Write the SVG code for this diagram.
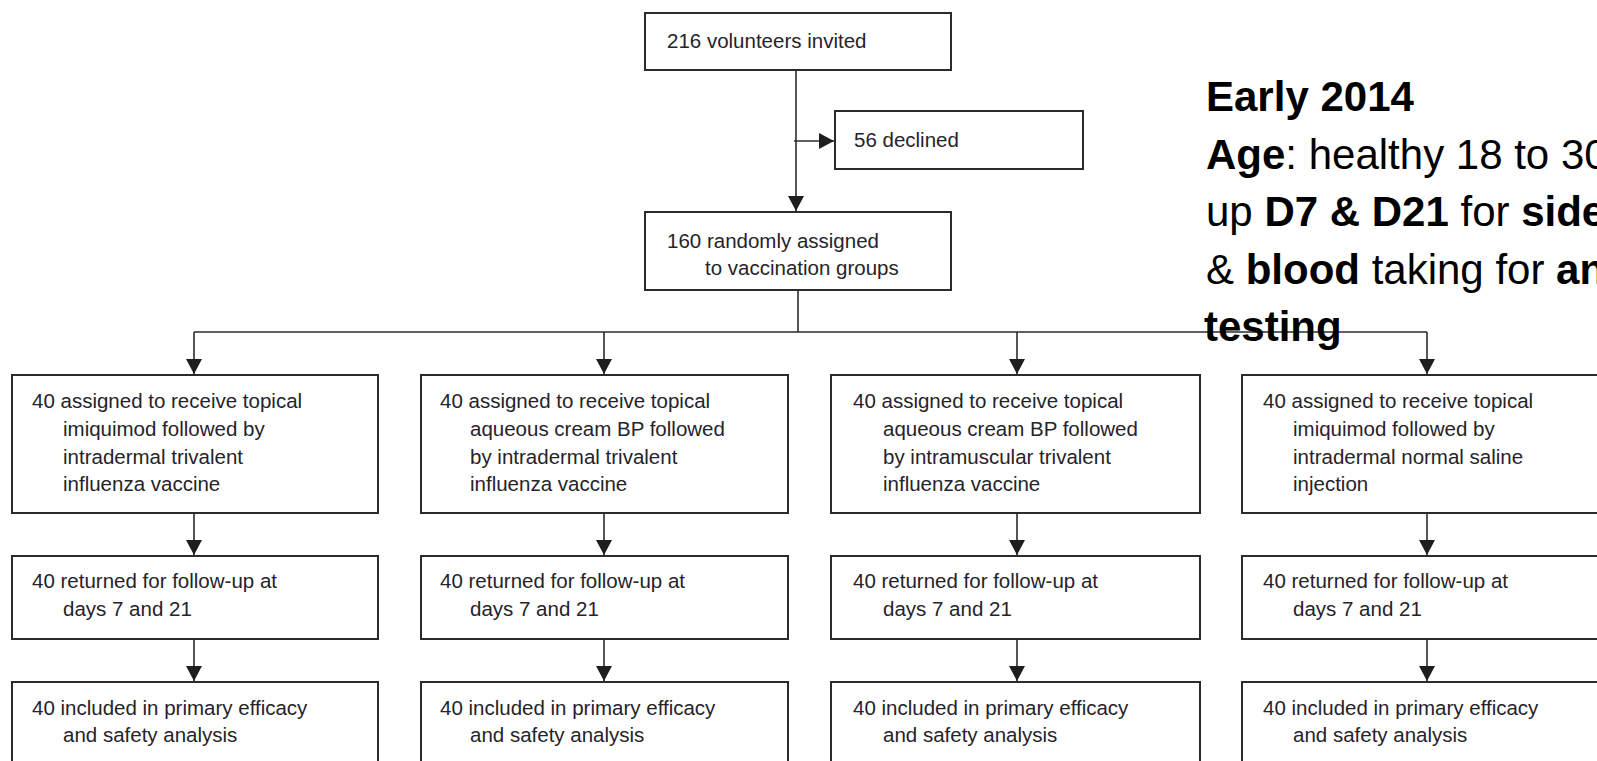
<svg xmlns="http://www.w3.org/2000/svg" width="1597" height="761" viewBox="0 0 1597 761">
<style>
  .box { fill: #ffffff; stroke: #2b2b2b; stroke-width: 2; }
  .t { font-family: "Liberation Sans", Arial, sans-serif; font-size: 20.5px; fill: #26232a; }
  .conn { fill: none; stroke: #2b2b2b; stroke-width: 1.6; }
  .note { font-family: "Liberation Sans", Arial, sans-serif; font-size: 42px; fill: #000000; }
  .b { font-weight: bold; }
</style>
<defs>
  <marker id="arr" markerUnits="userSpaceOnUse" markerWidth="16" markerHeight="16" refX="15" refY="8" orient="auto">
    <path d="M0,0 L15,8 L0,16 Z" fill="#1e1e1e"/>
  </marker>
</defs>
<rect width="1597" height="761" fill="#ffffff"/>

<g id="connectors">
  <line class="conn" x1="796" y1="70" x2="796" y2="211" marker-end="url(#arr)"/>
  <line class="conn" x1="794" y1="141" x2="834" y2="141" marker-end="url(#arr)"/>
  <line class="conn" x1="798" y1="290" x2="798" y2="332"/>
  <line class="conn" x1="194" y1="332" x2="1427" y2="332"/>
  <line class="conn" x1="194" y1="332" x2="194" y2="374" marker-end="url(#arr)"/>
  <line class="conn" x1="604" y1="332" x2="604" y2="374" marker-end="url(#arr)"/>
  <line class="conn" x1="1017" y1="332" x2="1017" y2="374" marker-end="url(#arr)"/>
  <line class="conn" x1="1427" y1="332" x2="1427" y2="374" marker-end="url(#arr)"/>
  <line class="conn" x1="194" y1="513" x2="194" y2="555" marker-end="url(#arr)"/>
  <line class="conn" x1="604" y1="513" x2="604" y2="555" marker-end="url(#arr)"/>
  <line class="conn" x1="1017" y1="513" x2="1017" y2="555" marker-end="url(#arr)"/>
  <line class="conn" x1="1427" y1="513" x2="1427" y2="555" marker-end="url(#arr)"/>
  <line class="conn" x1="194" y1="639" x2="194" y2="681" marker-end="url(#arr)"/>
  <line class="conn" x1="604" y1="639" x2="604" y2="681" marker-end="url(#arr)"/>
  <line class="conn" x1="1017" y1="639" x2="1017" y2="681" marker-end="url(#arr)"/>
  <line class="conn" x1="1427" y1="639" x2="1427" y2="681" marker-end="url(#arr)"/>
</g>

<g id="invited">
  <rect class="box" x="645" y="13" width="306" height="57"/>
  <text class="t" x="667" y="48">216 volunteers invited</text>
</g>
<g id="declined">
  <rect class="box" x="835" y="111" width="248" height="58"/>
  <text class="t" x="854" y="147">56 declined</text>
</g>
<g id="randomised">
  <rect class="box" x="645" y="212" width="306" height="78"/>
  <text class="t" x="667" y="248">160 randomly assigned</text>
  <text class="t" x="705" y="275">to vaccination groups</text>
</g>

<g id="group1">
  <rect class="box" x="12" y="375" width="366" height="138"/>
  <text class="t" x="32" y="408">40 assigned to receive topical</text>
  <text class="t" x="63" y="436">imiquimod followed by</text>
  <text class="t" x="63" y="464">intradermal trivalent</text>
  <text class="t" x="63" y="491">influenza vaccine</text>
</g>
<g id="group2">
  <rect class="box" x="421" y="375" width="367" height="138"/>
  <text class="t" x="440" y="408">40 assigned to receive topical</text>
  <text class="t" x="470" y="436">aqueous cream BP followed</text>
  <text class="t" x="470" y="464">by intradermal trivalent</text>
  <text class="t" x="470" y="491">influenza vaccine</text>
</g>
<g id="group3">
  <rect class="box" x="831" y="375" width="369" height="138"/>
  <text class="t" x="853" y="408">40 assigned to receive topical</text>
  <text class="t" x="883" y="436">aqueous cream BP followed</text>
  <text class="t" x="883" y="464">by intramuscular trivalent</text>
  <text class="t" x="883" y="491">influenza vaccine</text>
</g>
<g id="group4">
  <rect class="box" x="1242" y="375" width="370" height="138"/>
  <text class="t" x="1263" y="408">40 assigned to receive topical</text>
  <text class="t" x="1293" y="436">imiquimod followed by</text>
  <text class="t" x="1293" y="464">intradermal normal saline</text>
  <text class="t" x="1293" y="491">injection</text>
</g>

<g id="followup1">
  <rect class="box" x="12" y="556" width="366" height="83"/>
  <text class="t" x="32" y="588">40 returned for follow-up at</text>
  <text class="t" x="63" y="616">days 7 and 21</text>
</g>
<g id="followup2">
  <rect class="box" x="421" y="556" width="367" height="83"/>
  <text class="t" x="440" y="588">40 returned for follow-up at</text>
  <text class="t" x="470" y="616">days 7 and 21</text>
</g>
<g id="followup3">
  <rect class="box" x="831" y="556" width="369" height="83"/>
  <text class="t" x="853" y="588">40 returned for follow-up at</text>
  <text class="t" x="883" y="616">days 7 and 21</text>
</g>
<g id="followup4">
  <rect class="box" x="1242" y="556" width="370" height="83"/>
  <text class="t" x="1263" y="588">40 returned for follow-up at</text>
  <text class="t" x="1293" y="616">days 7 and 21</text>
</g>

<g id="analysis1">
  <rect class="box" x="12" y="682" width="366" height="100"/>
  <text class="t" x="32" y="715">40 included in primary efficacy</text>
  <text class="t" x="63" y="742">and safety analysis</text>
</g>
<g id="analysis2">
  <rect class="box" x="421" y="682" width="367" height="100"/>
  <text class="t" x="440" y="715">40 included in primary efficacy</text>
  <text class="t" x="470" y="742">and safety analysis</text>
</g>
<g id="analysis3">
  <rect class="box" x="831" y="682" width="369" height="100"/>
  <text class="t" x="853" y="715">40 included in primary efficacy</text>
  <text class="t" x="883" y="742">and safety analysis</text>
</g>
<g id="analysis4">
  <rect class="box" x="1242" y="682" width="370" height="100"/>
  <text class="t" x="1263" y="715">40 included in primary efficacy</text>
  <text class="t" x="1293" y="742">and safety analysis</text>
</g>

<g id="annotation">
  <text class="note b" x="1206" y="111">Early 2014</text>
  <text class="note" x="1206" y="168.5"><tspan class="b">Age</tspan>: healthy 18 to 30</text>
  <text class="note" x="1206" y="226">up <tspan class="b">D7 &amp; D21</tspan> for <tspan class="b">side</tspan></text>
  <text class="note" x="1206" y="283.5">&amp; <tspan class="b">blood</tspan> taking for <tspan class="b">an</tspan></text>
  <text class="note b" x="1204" y="341">testing</text>
</g>
</svg>
